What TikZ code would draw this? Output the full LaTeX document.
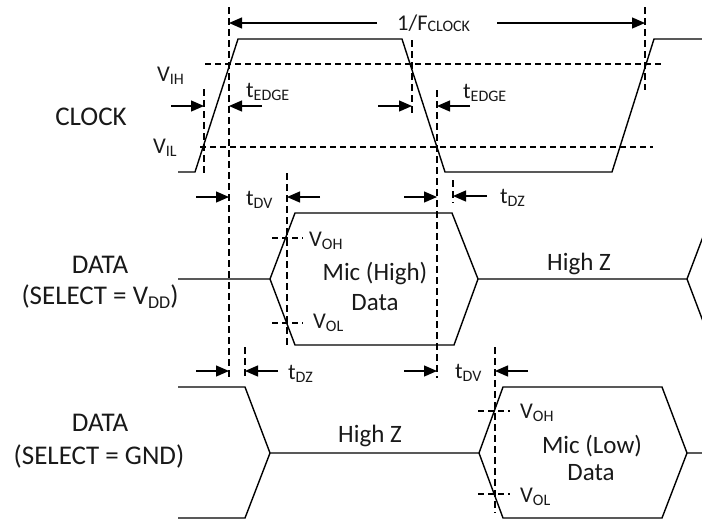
\documentclass[tikz,border=0pt]{standalone}
\usepackage{fontspec}
\setmainfont{Carlito}
\usetikzlibrary{arrows.meta}
\newcommand\subS[2][3pt]{\raisebox{-#1}{\fontsize{16}{16}\selectfont #2}}
\newcommand\subL[1]{\raisebox{-4pt}{\fontsize{18}{18}\selectfont #1}}
\begin{document}
\begin{tikzpicture}[x=1pt,y=-1pt,
  wave/.style={line width=1.4pt, line join=miter},
  guide/.style={line width=1.2pt, dash pattern=on 7pt off 4pt},
  hguide/.style={line width=1.2pt, dash pattern=on 6pt off 4pt},
  dim/.style={line width=1.3pt, -{Triangle[length=13pt,width=11pt]}},
  lbl/.style={inner sep=0pt, anchor=base west, text=black!90, font=\fontsize{22.5}{26}\selectfont},
  big/.style={inner sep=0pt, anchor=base, text=black!90, font=\fontsize{27}{32}\selectfont},
  mid/.style={inner sep=0pt, anchor=base, text=black!90, font=\fontsize{25}{30}\selectfont}]
\useasboundingbox (0,0) rectangle (702,523);
\clip (0,0) rectangle (702,523);

% ---------- CLOCK waveform ----------
\coordinate (c0) at (178,172);
\coordinate (c1) at (195,172);
\coordinate (c2) at (238,39);
\coordinate (c3) at (402,39);
\coordinate (c4) at (445,172);
\coordinate (c5) at (612,172);
\coordinate (c6) at (654,39);
\coordinate (c7) at (704,39);
\draw[wave] (c0) -- (c1) -- (c2) -- (c3) -- (c4) -- (c5) -- (c6) -- (c7);

% threshold lines
\coordinate (ih0) at (205,64);  \coordinate (ih1) at (662,64);
\coordinate (il0) at (200,147); \coordinate (il1) at (653,147);
\draw[hguide] (ih0) -- (ih1);
\draw[hguide] (il0) -- (il1);

% ---------- vertical guides ----------
\coordinate (g1a) at (229,7);   \coordinate (g1b) at (229,378);
\coordinate (g2a) at (204,89);  \coordinate (g2b) at (204,174);
\coordinate (g3a) at (412,40);  \coordinate (g3b) at (412,115);
\coordinate (g4a) at (437,90);  \coordinate (g4b) at (437,378);
\coordinate (g5a) at (645,7);   \coordinate (g5b) at (645,90);
\coordinate (g6a) at (287,173); \coordinate (g6b) at (287,345);
\coordinate (g7a) at (453,180); \coordinate (g7b) at (453,203);
\coordinate (g8a) at (245,347); \coordinate (g8b) at (245,377);
\coordinate (g9a) at (495,347); \coordinate (g9b) at (495,513);
\foreach \g in {1,...,9} {\draw[guide] (g\g a) -- (g\g b);}

% ---------- dimension arrows ----------
\coordinate (p1s) at (377,23); \coordinate (p1e) at (229,23);
\coordinate (p2s) at (497,23); \coordinate (p2e) at (645,23);
\draw[dim] (p1s) -- (p1e);
\draw[dim] (p2s) -- (p2e);

\coordinate (e1s) at (171,106); \coordinate (e1e) at (204,106);
\coordinate (e2s) at (262,106); \coordinate (e2e) at (229,106);
\coordinate (e3s) at (378,106); \coordinate (e3e) at (412,106);
\coordinate (e4s) at (470,106); \coordinate (e4e) at (437,106);
\draw[dim] (e1s) -- (e1e);
\draw[dim] (e2s) -- (e2e);
\draw[dim] (e3s) -- (e3e);
\draw[dim] (e4s) -- (e4e);

\coordinate (v1s) at (196,197); \coordinate (v1e) at (229,197);
\coordinate (v2s) at (320,197); \coordinate (v2e) at (287,197);
\coordinate (v3s) at (404,197); \coordinate (v3e) at (437,197);
\coordinate (v4s) at (487,196); \coordinate (v4e) at (453,196);
\draw[dim] (v1s) -- (v1e);
\draw[dim] (v2s) -- (v2e);
\draw[dim] (v3s) -- (v3e);
\draw[dim] (v4s) -- (v4e);

\coordinate (w1s) at (196,371); \coordinate (w1e) at (229,371);
\coordinate (w2s) at (278,371); \coordinate (w2e) at (245,371);
\coordinate (w3s) at (404,371); \coordinate (w3e) at (437,371);
\coordinate (w4s) at (528,371); \coordinate (w4e) at (495,371);
\draw[dim] (w1s) -- (w1e);
\draw[dim] (w2s) -- (w2e);
\draw[dim] (w3s) -- (w3e);
\draw[dim] (w4s) -- (w4e);

% ---------- DATA (SELECT = VDD) ----------
\coordinate (a0) at (178,279);
\coordinate (a1) at (270,279);
\coordinate (a2) at (295,213);
\coordinate (a3) at (452,213);
\coordinate (a4) at (478,279);
\coordinate (a5) at (295,345);
\coordinate (a6) at (454,345);
\coordinate (a7) at (687,279);
\coordinate (a8) at (712,213);
\coordinate (a9) at (712,345);
\draw[wave] (a0) -- (a1) -- (a2) -- (a3) -- (a4) -- (a7) -- (a8);
\draw[wave] (a1) -- (a5) -- (a6) -- (a4);
\draw[wave] (a7) -- (a9);
\coordinate (oh1a) at (272,238); \coordinate (oh1b) at (303,238);
\coordinate (ol1a) at (272,323); \coordinate (ol1b) at (303,323);
\draw[hguide] (oh1a) -- (oh1b);
\draw[hguide] (ol1a) -- (ol1b);

% ---------- DATA (SELECT = GND) ----------
\coordinate (b0) at (178,387);
\coordinate (b1) at (245,387);
\coordinate (b2) at (270,453);
\coordinate (b3) at (178,518);
\coordinate (b4) at (245,518);
\coordinate (b5) at (479,453);
\coordinate (b6) at (503,387);
\coordinate (b7) at (662,387);
\coordinate (b8) at (687,453);
\coordinate (b9) at (503,518);
\coordinate (b10) at (662,518);
\coordinate (b11) at (704,453);
\draw[wave] (b0) -- (b1) -- (b2) -- (b5) -- (b6) -- (b7) -- (b8) -- (b11);
\draw[wave] (b3) -- (b4) -- (b2);
\draw[wave] (b5) -- (b9) -- (b10) -- (b8);
\coordinate (oh2a) at (478,411); \coordinate (oh2b) at (510,411);
\coordinate (ol2a) at (478,494); \coordinate (ol2b) at (510,494);
\draw[hguide] (oh2a) -- (oh2b);
\draw[hguide] (ol2a) -- (ol2b);

% ---------- labels ----------
\node[big] (clk) at (91,125) {CLOCK};
\node[lbl] (vih) at (157,81) {V\subS{IH}};
\node[lbl] (vil) at (153,153) {V\subS{IL}};
\node[lbl] (te1) at (246,97) {t\subS{EDGE}};
\node[lbl] (te2) at (463,98) {t\subS{EDGE}};
\node[lbl] (per) at (397,30) {1/F\subS[1.5pt]{CLOCK}};
\node[lbl] (tdv1) at (246,205) {t\subS{DV}};
\node[lbl] (tdz1) at (500,203) {t\subS{DZ}};
\node[lbl] (voh1) at (309,246) {V\subS{OH}};
\node[lbl] (vol1) at (313,328) {V\subS{OL}};
\node[mid] (mic1) at (375,280) {Mic (High)};
\node[mid] (dat1) at (375,310) {Data};
\node[mid] (hz1) at (579,270) {High Z};
\node[big] (d1a) at (100,273) {DATA};
\node[big] (d1b) at (100,304) {(SELECT = V\subL{DD})};
\node[lbl] (tdz2) at (288,379) {t\subS{DZ}};
\node[lbl] (tdv2) at (455,378) {t\subS{DV}};
\node[mid] (hz2) at (370,442) {High Z};
\node[lbl] (voh2) at (520,418) {V\subS{OH}};
\node[lbl] (vol2) at (520,502) {V\subS{OL}};
\node[mid] (mic2) at (592,453) {Mic (Low)};
\node[mid] (dat2) at (591,480) {Data};
\node[big] (d2a) at (100,431) {DATA};
\node[big] (d2b) at (99,464) {(SELECT = GND)};
\end{tikzpicture}
\end{document}
